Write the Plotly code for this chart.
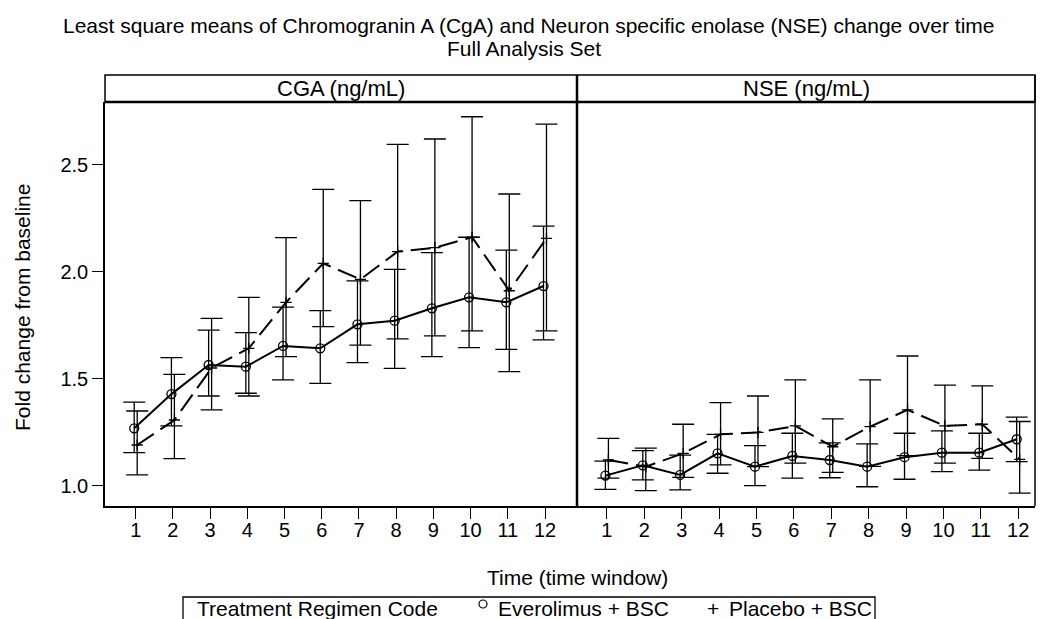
import plotly.graph_objects as go

# ---------------- data ----------------
time_windows = [1, 2, 3, 4, 5, 6, 7, 8, 9, 10, 11, 12]
tick_labels = [str(t) for t in time_windows]
panels = ["CGA (ng/mL)", "NSE (ng/mL)"]
groups = ["Everolimus + BSC", "Placebo + BSC"]
legend_title = "Treatment Regimen Code"

# CGA
cga_evero_mean = [1.268, 1.428, 1.564, 1.556, 1.653, 1.642, 1.754, 1.771, 1.829, 1.880, 1.857, 1.933]
cga_evero_low = [1.154, 1.279, 1.419, 1.432, 1.494, 1.478, 1.575, 1.548, 1.603, 1.645, 1.637, 1.681]
cga_evero_up = [1.390, 1.598, 1.727, 1.715, 1.834, 1.818, 1.957, 2.011, 2.089, 2.161, 2.101, 2.213]

cga_plac_mean = [1.190, 1.307, 1.550, 1.642, 1.857, 2.039, 1.964, 2.094, 2.112, 2.161, 1.911, 2.156]
cga_plac_low = [1.050, 1.126, 1.354, 1.419, 1.603, 1.743, 1.657, 1.686, 1.700, 1.723, 1.533, 1.723]
cga_plac_up = [1.349, 1.520, 1.782, 1.880, 2.159, 2.385, 2.332, 2.595, 2.620, 2.724, 2.363, 2.690]

# NSE
nse_evero_mean = [1.047, 1.095, 1.050, 1.151, 1.089, 1.139, 1.120, 1.089, 1.133, 1.154, 1.154, 1.217]
nse_evero_low = [0.983, 1.027, 0.980, 1.058, 1.000, 1.035, 1.037, 0.995, 1.030, 1.066, 1.073, 1.112]
nse_evero_up = [1.115, 1.164, 1.143, 1.240, 1.187, 1.245, 1.200, 1.195, 1.245, 1.256, 1.245, 1.320]

nse_plac_mean = [1.120, 1.089, 1.151, 1.240, 1.249, 1.279, 1.182, 1.276, 1.354, 1.279, 1.287, 1.123]
nse_plac_low = [1.035, 0.977, 1.039, 1.097, 1.089, 1.105, 1.062, 1.090, 1.140, 1.105, 1.128, 0.965]
nse_plac_up = [1.221, 1.175, 1.287, 1.388, 1.419, 1.494, 1.312, 1.494, 1.606, 1.470, 1.466, 1.300]

y_ticks = [1.0, 1.5, 2.0, 2.5]

# ---------------- figure ----------------
FONT = "Liberation Sans, Arial, Helvetica, sans-serif"
OFF = 8                      # page body margin
W, H = 1046 - OFF, 619 - OFF
L, R, T, B = 105 - OFF, 11, 75 - OFF, 113
plot_w = W - L - R
plot_h = H - T - B
header_h = 27
y_dom_top = (plot_h - header_h) / plot_h
SX0 = L + OFF                # screen x of plot left edge
SYB = T + OFF + plot_h       # screen y of plot bottom edge


def px(sx):
    return (sx - SX0) / plot_w


def py(sy):
    return (SYB - sy) / plot_h


split = px(577)

fig = go.Figure()


def add_series(xaxis, yaxis, x_off, mean, low, up, name, dash, symbol, msize):
    xs = [t + x_off for t in time_windows]
    fig.add_trace(go.Scatter(
        x=xs, y=mean, mode="lines+markers", name=name, showlegend=False,
        xaxis=xaxis, yaxis=yaxis,
        line=dict(color="black", width=2, dash=dash),
        marker=dict(symbol=symbol, size=msize, color="black",
                    line=dict(color="black", width=1.3)),
        error_y=dict(type="data", symmetric=False,
                     array=[u - m for u, m in zip(up, mean)],
                     arrayminus=[m - lo for m, lo in zip(mean, low)],
                     color="black", thickness=1.3, width=11),
    ))


DASH = "20px,8px"
add_series("x", "y", -0.04, cga_evero_mean, cga_evero_low, cga_evero_up, groups[0], "solid", "circle-open", 9)
add_series("x", "y", 0.04, cga_plac_mean, cga_plac_low, cga_plac_up, groups[1], DASH, "cross-thin-open", 8)
add_series("x2", "y2", -0.04, nse_evero_mean, nse_evero_low, nse_evero_up, groups[0], "solid", "circle-open", 9)
add_series("x2", "y2", 0.04, nse_plac_mean, nse_plac_low, nse_plac_up, groups[1], DASH, "cross-thin-open", 8)

xcommon = dict(tickvals=time_windows, ticktext=tick_labels, ticks="outside",
               ticklen=11, tickwidth=1.3, tickcolor="black", showgrid=False,
               zeroline=False, showline=True, linecolor="black", linewidth=1.5,
               ticklabelstandoff=-6,
               tickfont=dict(family=FONT, size=20, color="black"))

fig.update_layout(
    width=W, height=H,
    margin=dict(l=L, r=R, t=T, b=B, pad=0),
    paper_bgcolor="white", plot_bgcolor="white",
    font=dict(family=FONT, color="black"),
    showlegend=False,
    xaxis=dict(domain=[0, split], range=[0.175, 12.86], anchor="y", **xcommon),
    xaxis2=dict(domain=[split, 1], range=[0.2, 12.45], anchor="y2", **xcommon),
    yaxis=dict(domain=[0, y_dom_top], range=[0.905, 2.793], tickvals=y_ticks,
               ticktext=[f"{v:.1f}" for v in y_ticks], ticks="outside",
               ticklen=11, tickwidth=1.3, tickcolor="black", showgrid=False,
               zeroline=False, showline=True, linecolor="black", linewidth=1.5,
               tickfont=dict(family=FONT, size=20, color="black"), anchor="x"),
    yaxis2=dict(domain=[0, y_dom_top], range=[0.905, 2.793], showticklabels=False,
                ticks="", showgrid=False, zeroline=False, showline=False, anchor="x2"),
)

# frame / header / legend shapes
shapes = [
    dict(type="rect", xref="paper", yref="paper", x0=0, x1=1, y0=y_dom_top, y1=1,
         line=dict(color="black", width=1.5), fillcolor="rgba(0,0,0,0)"),
    dict(type="line", xref="paper", yref="paper", x0=0, x1=1, y0=y_dom_top, y1=y_dom_top,
         line=dict(color="black", width=2.5)),
    dict(type="line", xref="paper", yref="paper", x0=split, x1=split, y0=0, y1=1,
         line=dict(color="black", width=2.5)),
    dict(type="line", xref="paper", yref="paper", x0=1, x1=1, y0=0, y1=1,
         line=dict(color="black", width=1.5)),
    # legend box (bottom runs off the page as in the reference)
    dict(type="rect", xref="paper", yref="paper", x0=px(183), x1=px(875),
         y0=py(632), y1=py(597), line=dict(color="black", width=1.3),
         fillcolor="rgba(0,0,0,0)"),
    # legend circle symbol
    dict(type="circle", xref="paper", yref="paper", xsizemode="pixel", ysizemode="pixel",
         xanchor=px(483), yanchor=py(604), x0=-4, x1=4, y0=-4, y1=4,
         line=dict(color="black", width=1.2), fillcolor="rgba(0,0,0,0)"),
]
fig.update_layout(shapes=shapes)

hdr_y = (y_dom_top + 1) / 2
LEG_Y = py(608)
annotations = [
    dict(text=panels[0], xref="paper", yref="paper", x=split / 2, y=hdr_y,
         showarrow=False, font=dict(family=FONT, size=22, color="black"),
         xanchor="center", yanchor="middle"),
    dict(text=panels[1], xref="paper", yref="paper", x=(split + 1) / 2, y=hdr_y,
         showarrow=False, font=dict(family=FONT, size=22, color="black"),
         xanchor="center", yanchor="middle"),
    dict(text="Least square means of Chromogranin A (CgA) and Neuron specific enolase (NSE) change over time",
         xref="paper", yref="paper", x=px(529), y=py(25),
         showarrow=False, font=dict(family=FONT, size=21, color="black"),
         xanchor="center", yanchor="middle"),
    dict(text="Full Analysis Set",
         xref="paper", yref="paper", x=px(524), y=py(49),
         showarrow=False, font=dict(family=FONT, size=21, color="black"),
         xanchor="center", yanchor="middle"),
    dict(text="Time (time window)", xref="paper", yref="paper", x=px(577),
         y=py(577), showarrow=False,
         font=dict(family=FONT, size=21, color="black"), xanchor="center", yanchor="middle"),
    dict(text="Fold change from baseline", xref="paper", yref="paper",
         x=px(22), y=py(308), textangle=-90, showarrow=False,
         font=dict(family=FONT, size=21, color="black"), xanchor="center", yanchor="middle"),
    # legend texts
    dict(text=legend_title, xref="paper", yref="paper", x=px(195), y=LEG_Y,
         showarrow=False, font=dict(family=FONT, size=21, color="black"),
         xanchor="left", yanchor="middle"),
    dict(text=groups[0], xref="paper", yref="paper", x=px(496), y=LEG_Y,
         showarrow=False, font=dict(family=FONT, size=21, color="black"),
         xanchor="left", yanchor="middle"),
    dict(text="+", xref="paper", yref="paper", x=px(713), y=LEG_Y,
         showarrow=False, font=dict(family=FONT, size=21, color="black"),
         xanchor="center", yanchor="middle"),
    dict(text=groups[1], xref="paper", yref="paper", x=px(727), y=LEG_Y,
         showarrow=False, font=dict(family=FONT, size=21, color="black"),
         xanchor="left", yanchor="middle"),
]
fig.update_layout(annotations=annotations)

fig.write_html("out.html")
